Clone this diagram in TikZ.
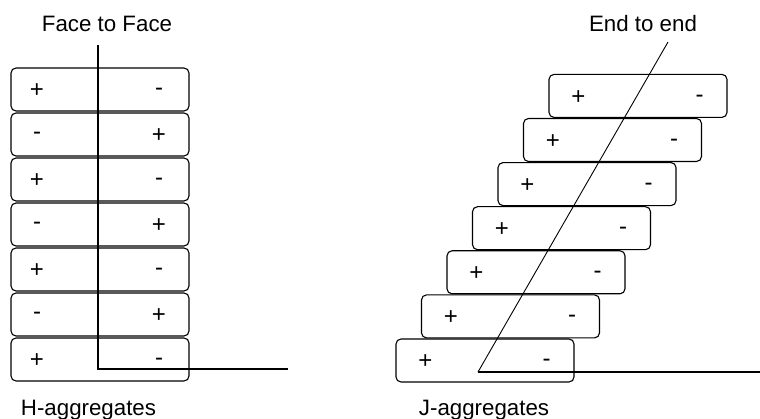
\documentclass[tikz,border=0pt]{standalone}
\usepackage{fontspec}
\setmainfont{Liberation Sans}
\begin{document}
\begin{tikzpicture}[x=1pt,y=-1pt,
  dimer/.style={draw=black, line width=1.1pt, rounded corners=5pt,
    minimum width=178pt, minimum height=43pt, inner sep=0pt},
  sign/.style={font=\fontsize{24}{24}\selectfont, inner sep=0pt},
  caption/.style={font=\fontsize{22.3}{24}\selectfont, anchor=base, inner sep=0pt},
  axis/.style={line width=1.6pt},
  slant/.style={line width=0.9pt}]
\useasboundingbox (0,0) rectangle (760,419);

% H-aggregates: stacked dimers with alternating dipoles
\foreach \i in {0,...,6} {
  \node[dimer] (h\i) at (100,{89.5+45*\i}) {};
  \pgfmathparse{int(mod(\i,2))}
  \ifnum\pgfmathresult=0
    \node[sign] (h\i l) at ([xshift=-63pt,yshift=-1pt]h\i.center) {+};
    \node[sign] (h\i r) at ([xshift=59pt,yshift=-2pt]h\i.center) {-};
  \else
    \node[sign] (h\i l) at ([xshift=-63pt,yshift=-1pt]h\i.center) {-};
    \node[sign] (h\i r) at ([xshift=59pt,yshift=-1pt]h\i.center) {+};
  \fi
}

% J-aggregates: staircase of head-to-tail dimers
\foreach \i in {0,...,6} {
  \node[dimer] (j\i) at ({485+25.5*\i},{360.5-44.1*\i}) {};
  \node[sign] (j\i l) at ([xshift=-59.5pt,yshift=-1.5pt]j\i.center) {+};
  \node[sign] (j\i r) at ([xshift=61.5pt,yshift=-2.5pt]j\i.center) {-};
}

% axes
\coordinate (ftop) at (98,45);
\coordinate (fcorner) at (98,369);
\coordinate (fend) at (288,369);
\draw[axis] (ftop) -- (fcorner) -- (fend);

\coordinate (etop) at (668,42);
\coordinate (ecorner) at (478,372);
\coordinate (eend) at (760,372);
\draw[slant] (etop) -- (ecorner);
\draw[axis] (ecorner) -- (eend);

% captions
\node[caption] (ftitle) at (107,31.7) {Face to Face};
\node[caption] (etitle) at (643,31.7) {End to end};
\node[caption] (hcap) at (88.5,415) {H-aggregates};
\node[caption] (jcap) at (484,415) {J-aggregates};
\end{tikzpicture}
\end{document}
